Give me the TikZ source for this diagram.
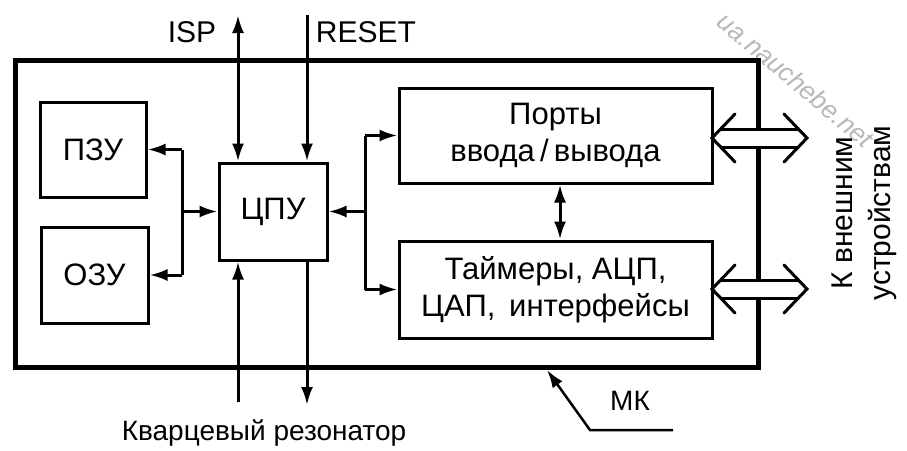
\documentclass[tikz,border=0pt]{standalone}
\usepackage{fontspec}
\setmainfont{Liberation Sans}
\usetikzlibrary{arrows.meta,calc}
\tikzset{
  blk/.style={draw, line width=3pt, inner sep=0pt, font=\fontsize{31}{37}\selectfont, align=center},
  wire/.style={line width=3pt},
  oneway/.style={wire, -{Latex[length=18pt,width=12pt]}},
  twoway/.style={wire, {Latex[length=18pt,width=12pt]}-{Latex[length=18pt,width=12pt]}},
  lbl/.style={font=\fontsize{30}{36}\selectfont, inner sep=0pt},
  hollow/.style={line width=3pt, line join=miter},
}
\begin{document}
\begin{tikzpicture}[x=1pt,y=-1pt]
\useasboundingbox[fill=white] (0,0) rectangle (907,450);
% watermark
\node[font=\fontsize{26}{30}\selectfont\itshape, text=black!28, rotate=-40] (wm) at (796,80) {ua.nauchebe.net};
% outer MK
\node[draw, line width=5pt, minimum width=743pt, minimum height=307pt, inner sep=0pt] (mk) at (386.5,213.5) {};
% blocks
\node[blk, minimum width=106pt, minimum height=95pt] (rom) at (93,149.5) {ПЗУ};
\node[blk, minimum width=107pt, minimum height=96pt] (ram) at (94.5,275) {ОЗУ};
\node[blk, minimum width=108pt, minimum height=97pt] (cpu) at (273,211.5) {ЦПУ};
\node[blk, minimum width=313pt, minimum height=95pt] (ports) at (555.5,135.5) {Порты\\ввода\,/\,вывода};
\node[blk, minimum width=313pt, minimum height=97pt] (tim) at (555.5,289.5) {Таймеры, АЦП,\\ЦАП,\, интерфейсы};
% left bus
\coordinate (b1t) at (182,149.5);
\coordinate (b1b) at (182,275);
\coordinate (b1m) at (182,211.5);
\draw[wire] (b1t) -- (b1b);
\draw[oneway] (b1t) -- (rom.east);
\draw[oneway] (b1b) -- (ram.east);
\draw[oneway] (b1m) -- (cpu.west);
% right bus
\coordinate (b2t) at (365,135.5);
\coordinate (b2b) at (365,289.5);
\coordinate (b2m) at (365,211.5);
\draw[wire] (b2t) -- (b2b);
\draw[oneway] (b2t) -- (ports.west);
\draw[oneway] (b2b) -- (tim.west);
\draw[oneway] (b2m) -- (cpu.east);
% ports <-> timers
\coordinate (pt) at (560,0);
\draw[twoway] (ports.south -| pt) -- (tim.north -| pt);
% ISP, RESET
\coordinate (ispT) at (238,15);
\coordinate (resT) at (307,15);
\draw[twoway] (ispT) -- (cpu.north -| ispT);
\draw[oneway] (resT) -- (cpu.north -| resT);
\node[lbl, anchor=base] (isp) at (192,42) {ISP};
\node[lbl, anchor=base] (reset) at (366,42) {RESET};
% crystal
\coordinate (qa) at (238,402);
\coordinate (qb) at (307,405);
\draw[oneway] (qa) -- (cpu.south -| qa);
\draw[oneway] (cpu.south -| qb) -- (qb);
\node[lbl, anchor=base, font=\fontsize{28}{34}\selectfont] (kv) at (264,440) {Кварцевый резонатор};
% MK pointer
\coordinate (mkA) at (673,430);
\coordinate (mkB) at (590,430);
\coordinate (mkT) at (547,370);
\draw[line width=2.5pt, -{Latex[length=18pt,width=12pt]}] (mkA) -- (mkB) -- (mkT);
\node[lbl, anchor=base, font=\fontsize{28}{34}\selectfont] (mklbl) at (630,410) {МК};
% hollow double arrows
\foreach \n/\c in {pa/138, ta/289}{
  \begin{scope}[shift={(712,\c)}]
    \fill[white] (9,-9) -- (86,-9) -- (95,0) -- (86,9) -- (9,9) -- (0,0) -- cycle;
    \draw[hollow] (9,-9) -- (86,-9);
    \draw[hollow] (9,9) -- (86,9);
    \draw[hollow, line cap=round] (23,-24) -- (0,0) -- (23,24);
    \draw[hollow, line cap=round] (72,-24) -- (95,0) -- (72,24);
  \end{scope}
}
% external label
\node[lbl, rotate=90, align=center, font=\fontsize{30}{38}\selectfont] (ext) at (864,213) {К внешним\\устройствам};
\end{tikzpicture}
\end{document}
